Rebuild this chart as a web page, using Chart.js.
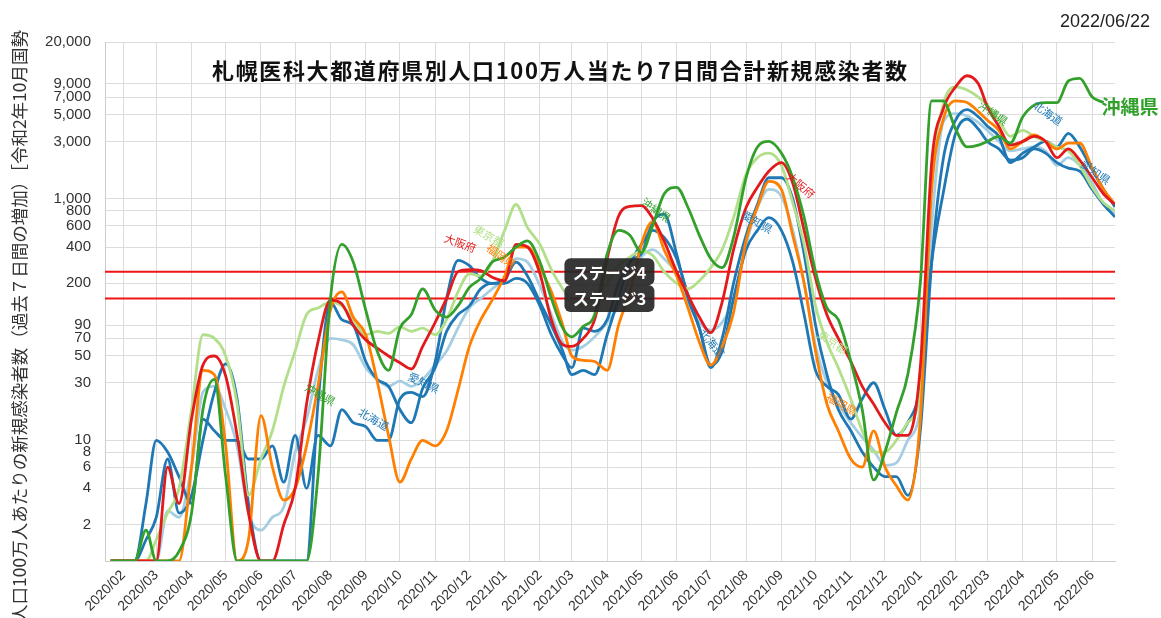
<!DOCTYPE html>
<html>
<head>
<meta charset="utf-8">
<script src="https://cdn.jsdelivr.net/npm/chart.js@4.4.0/dist/chart.umd.min.js"></script>
<style>
  html, body { margin: 0; padding: 0; background: #fff; }
  #wrap { width: 1161px; height: 618px; }
</style>
</head>
<body>
<div id="wrap"><canvas id="chart" width="1161" height="618"></canvas></div>
<script>
// sample dates (1st / 11th / 21st of each month)
const sampleDates = [
  '2020/01/21',
  '2020/02/01','2020/02/11','2020/02/21','2020/03/01','2020/03/11','2020/03/21',
  '2020/04/01','2020/04/11','2020/04/21','2020/05/01','2020/05/11','2020/05/21',
  '2020/06/01','2020/06/11','2020/06/21','2020/07/01','2020/07/11','2020/07/21',
  '2020/08/01','2020/08/11','2020/08/21','2020/09/01','2020/09/11','2020/09/21',
  '2020/10/01','2020/10/11','2020/10/21','2020/11/01','2020/11/11','2020/11/21',
  '2020/12/01','2020/12/11','2020/12/21','2021/01/01','2021/01/11','2021/01/21',
  '2021/02/01','2021/02/11','2021/02/21','2021/03/01','2021/03/11','2021/03/21',
  '2021/04/01','2021/04/11','2021/04/21','2021/05/01','2021/05/11','2021/05/21',
  '2021/06/01','2021/06/11','2021/06/21','2021/07/01','2021/07/11','2021/07/21',
  '2021/08/01','2021/08/11','2021/08/21','2021/09/01','2021/09/11','2021/09/21',
  '2021/10/01','2021/10/11','2021/10/21','2021/11/01','2021/11/11','2021/11/21',
  '2021/12/01','2021/12/11','2021/12/21','2022/01/01','2022/01/11','2022/01/21',
  '2022/02/01','2022/02/11','2022/02/21','2022/03/01','2022/03/11','2022/03/21',
  '2022/04/01','2022/04/11','2022/04/21','2022/05/01','2022/05/11','2022/05/21',
  '2022/06/01','2022/06/11','2022/06/21'
];

const monthTicks = [
  '2020/02','2020/03','2020/04','2020/05','2020/06','2020/07','2020/08','2020/09',
  '2020/10','2020/11','2020/12','2021/01','2021/02','2021/03','2021/04','2021/05',
  '2021/06','2021/07','2021/08','2021/09','2021/10','2021/11','2021/12','2022/01',
  '2022/02','2022/03','2022/04','2022/05','2022/06'
];

const yTicks = [1, 2, 4, 6, 8, 10, 30, 50, 70, 90, 200, 400, 600, 800, 1000, 3000, 5000, 7000, 9000, 20000];

const stageValues = [250, 150];
const stageNames = ['ステージ4', 'ステージ3'];

// per-prefecture values (per million, 7-day total)
const okinawa = [1,1,1,1.8,1,1,1.2,2.5,18,32,5,1,1,1,1,1,1,1,5,150,420,300,120,55,38,85,110,180,120,105,130,185,220,300,330,400,450,300,150,85,72,88,110,350,550,500,360,600,1100,1250,850,500,320,270,480,1500,2700,3000,2400,1500,700,250,125,100,45,18,4.7,8,17,35,200,6500,6500,3800,2700,2800,3000,3300,2900,4800,6000,6300,6300,9500,10000,7000,6300,null];
const tokyo = [1,1,1,1,1.5,2.5,4,18,75,70,50,20,3.5,7,12,28,55,110,125,140,130,100,75,80,77,87,80,85,75,100,170,240,230,300,550,900,580,420,260,180,140,130,150,200,280,330,370,340,250,200,180,210,270,380,700,1600,2200,2400,1900,930,420,130,65,40,22,12,8,8,10,14,25,1500,6000,8500,8000,7000,6000,4500,3300,3700,3300,3000,2700,2500,1900,1250,930,800];
const osaka = [1,1,1,1,1,6,3,15,42,50,34,11,2.5,1,1,2,4,20,65,145,135,90,68,58,50,44,39,60,95,150,250,260,255,225,210,420,400,240,100,62,60,70,100,320,720,870,880,690,450,250,160,105,78,140,380,850,1250,1700,2000,1350,550,220,110,70,45,28,20,14,11,11,40,2000,5500,8500,10500,9000,5800,4000,2800,3000,3300,3000,2200,2600,2100,1500,1100,900];
const fukuoka = [1,1,1,1,1,1,1,6,38,35,9,1,1.5,16,6,3.2,4,9,28,120,170,105,75,31,11,4.5,7,10,9,12,26,60,100,145,230,400,400,270,170,90,50,46,45,38,90,170,420,650,380,230,125,65,42,60,115,450,860,1400,1200,500,200,55,20,12,7,6,12,6,4.2,3.2,15,1200,4500,6500,6300,5300,4500,3700,2600,3000,3400,3000,2600,2900,2900,1800,1200,900];
const kanagawa = [1,1,1,1,1,2.6,2.3,6,25,28,18,9,2.5,1.8,2.3,2.8,8,15,38,70,68,62,40,32,28,31,28,32,42,55,85,125,150,180,220,320,300,190,110,65,56,60,72,95,130,220,330,380,320,240,140,95,82,95,145,420,850,1200,1050,550,200,60,30,20,14,10.6,8.3,6.2,6.5,10,19,600,4300,5100,4900,4300,3700,3000,2500,2600,2700,2500,1900,2200,1900,1350,900,760];
const hokkaido = [1,1,1,3,10,8,5,3,15,12,10,10,7,7,9,4.5,11,4,11,9,18,14,13,10,10,22,25,23,45,150,310,280,220,200,215,300,230,140,90,55,35,38,35,75,150,300,350,650,750,350,150,85,42,55,150,380,550,700,550,300,110,38,28,24,15,22,30,18,11,14,29,300,1100,3500,4600,3800,3000,2600,2100,2200,2600,2400,2000,1800,1700,1200,900,710];
const aichi = [1,1,1,1.5,2.3,7,2.5,3.5,10,25,43,22,3,1,1,1,1,1,20,140,100,90,45,32,28,18,14,27,40,80,110,130,180,200,200,220,200,130,75,50,40,85,80,100,200,300,420,550,480,320,160,85,40,70,200,500,900,1500,1500,1000,350,90,35,18,12,8,6,5,5,3.5,12,300,2100,4500,5500,4800,4000,3300,2000,2400,2700,3000,2700,3500,2700,1750,1200,860];

// small labels written along the lines
const lineLabels = [
  { text: '大阪府', date: '2020/11/23', value: 431, angle: 20, series: '大阪府' },
  { text: '東京都', date: '2020/12/18', value: 493, angle: 30, series: '東京都' },
  { text: '福岡県', date: '2020/12/29', value: 336, angle: 35, series: '福岡県' },
  { text: '沖縄県', date: '2021/05/14', value: 809, angle: 35, series: '沖縄県' },
  { text: '愛知県', date: '2021/08/11', value: 644, angle: 30, series: '愛知県' },
  { text: '大阪府', date: '2021/09/18', value: 1300, angle: 40, series: '大阪府' },
  { text: '沖縄県', date: '2020/07/23', value: 24, angle: 30, series: '沖縄県' },
  { text: '北海道', date: '2020/09/08', value: 15, angle: 30, series: '北海道' },
  { text: '愛知県', date: '2020/10/22', value: 30, angle: 25, series: '愛知県' },
  { text: '北海道', date: '2021/07/02', value: 64, angle: 50, series: '北海道' },
  { text: '東京都', date: '2021/10/16', value: 65, angle: 35, series: '東京都' },
  { text: '福岡県', date: '2021/10/24', value: 20, angle: 30, series: '福岡県' },
  { text: '沖縄県', date: '2022/03/06', value: 5150, angle: 35, series: '沖縄県' },
  { text: '北海道', date: '2022/04/23', value: 5150, angle: 35, series: '北海道' },
  { text: '愛知県', date: '2022/06/04', value: 1670, angle: 35, series: '愛知県' }
];

const dayOf = s => {
  const p = s.split('/').map(Number);
  return (Date.UTC(p[0], p[1] - 1, p[2] || 1) - Date.UTC(2020, 1, 1)) / 86400000;
};
const xMin = dayOf('2020/01/16');
const xMax = dayOf('2022/06/21');

const points = vals => sampleDates.map((d, i) => ({ x: dayOf(d), y: vals[i] }));

const colors = {
  '沖縄県': '#33a02c',
  '大阪府': '#e31a1c',
  '東京都': '#b2df8a',
  '福岡県': '#ff7f00',
  '北海道': '#1f78b4',
  '愛知県': '#1f78b4',
  '神奈川県': '#a6cee3'
};

function lineSet(name, vals) {
  return {
    label: name,
    data: points(vals),
    borderColor: colors[name],
    borderWidth: 2.8,
    pointRadius: 0,
    fill: false,
    cubicInterpolationMode: 'monotone',
    spanGaps: false
  };
}

const stageSets = stageValues.map((v, i) => ({
  label: stageNames[i],
  data: [{ x: xMin, y: v }, { x: xMax, y: v }],
  borderColor: '#f01414',
  borderWidth: 2,
  pointRadius: 0,
  fill: false
}));

const overlay = {
  id: 'overlay',
  beforeDraw(chart) {
    const ctx = chart.ctx;
    ctx.save();
    ctx.fillStyle = '#fff';
    ctx.fillRect(0, 0, chart.width, chart.height);
    ctx.restore();
  },
  afterDraw(chart) {
    const ctx = chart.ctx;
    const xs = chart.scales.x, ys = chart.scales.y;
    const jp = '"Noto Sans CJK JP", "Noto Sans", sans-serif';

    // labels along lines
    lineLabels.forEach(l => {
      const px = xs.getPixelForValue(dayOf(l.date));
      const py = ys.getPixelForValue(l.value);
      ctx.save();
      ctx.translate(px, py);
      ctx.rotate(l.angle * Math.PI / 180);
      ctx.font = '11px ' + jp;
      ctx.fillStyle = colors[l.series];
      ctx.textAlign = 'center';
      ctx.textBaseline = 'middle';
      ctx.fillText(l.text, 0, 0);
      ctx.restore();
    });

    // end label for Okinawa
    let last = okinawa.length - 1;
    while (okinawa[last] == null) last--;
    const ex = xs.getPixelForValue(dayOf(sampleDates[last]));
    const ey = ys.getPixelForValue(okinawa[last]);
    ctx.save();
    ctx.font = 'bold 19px ' + jp;
    ctx.fillStyle = colors['沖縄県'];
    ctx.textAlign = 'left';
    ctx.textBaseline = 'middle';
    ctx.fillText('沖縄県', ex - 2, ey + 4);
    ctx.restore();

    // stage boxes
    const bx = xs.getPixelForValue(dayOf('2021/04/03'));
    stageValues.forEach((v, i) => {
      const by = ys.getPixelForValue(v);
      ctx.save();
      ctx.fillStyle = 'rgba(38,38,38,0.92)';
      ctx.beginPath();
      ctx.roundRect(bx - 45, by - 13.5, 90, 27, 6);
      ctx.fill();
      ctx.font = 'bold 16px ' + jp;
      ctx.fillStyle = '#fff';
      ctx.textAlign = 'center';
      ctx.textBaseline = 'middle';
      ctx.fillText(stageNames[i], bx, by + 1);
      ctx.restore();
    });

    // title
    const title = '札幌医科大都道府県別人口100万人当たり7日間合計新規感染者数';
    ctx.save();
    ctx.font = 'bold 22px ' + jp;
    ctx.fillStyle = '#111';
    ctx.textBaseline = 'middle';
    ctx.textAlign = 'left';
    const w = ctx.measureText(title).width;
    const target = 695;
    if ('letterSpacing' in ctx) {
      ctx.letterSpacing = ((target - w) / (title.length - 1)).toFixed(2) + 'px';
    }
    ctx.fillText(title, 212, 71);
    ctx.restore();

    // date
    ctx.save();
    ctx.font = '18px "Liberation Sans", Arial, sans-serif';
    ctx.fillStyle = '#222';
    ctx.textAlign = 'right';
    ctx.textBaseline = 'middle';
    ctx.fillText('2022/06/22', 1150, 22);
    ctx.restore();

    // y axis title (clipped at the top like the original)
    ctx.save();
    ctx.beginPath();
    ctx.rect(0, 30, 40, chart.height - 30);
    ctx.clip();
    ctx.translate(19, 622);
    ctx.rotate(-Math.PI / 2);
    ctx.font = '17.5px ' + jp;
    ctx.fillStyle = '#333';
    ctx.textAlign = 'left';
    ctx.textBaseline = 'middle';
    ctx.fillText('人口100万人あたりの新規感染者数（過去７日間の増加）［令和2年10月国勢調査］', 0, 0);
    ctx.restore();
  }
};

Chart.defaults.font.family = '"Liberation Sans", Arial, sans-serif';
Chart.defaults.color = '#333';

new Chart(document.getElementById('chart').getContext('2d'), {
  type: 'line',
  data: {
    datasets: [
      lineSet('沖縄県', okinawa),
      lineSet('大阪府', osaka),
      lineSet('福岡県', fukuoka),
      lineSet('東京都', tokyo),
      lineSet('北海道', hokkaido),
      lineSet('愛知県', aichi),
      lineSet('神奈川県', kanagawa),
      ...stageSets
    ]
  },
  options: {
    responsive: false,
    animation: false,
    devicePixelRatio: 1,
    layout: { padding: { top: 42, right: 46, left: 0, bottom: 0 } },
    plugins: {
      legend: { display: false },
      tooltip: { enabled: false }
    },
    scales: {
      x: {
        type: 'linear',
        min: xMin,
        max: xMax,
        afterBuildTicks: s => { s.ticks = monthTicks.map(m => ({ value: dayOf(m + '/01') })); },
        afterFit: s => { s.height = 57; },
        grid: { color: '#dcdcdc', drawTicks: false },
        border: { color: '#cccccc' },
        ticks: {
          autoSkip: false,
          maxRotation: 45,
          minRotation: 45,
          padding: 6,
          font: { size: 14 },
          color: '#333',
          callback: (v, i) => monthTicks[i]
        }
      },
      y: {
        type: 'logarithmic',
        min: 1,
        max: 20000,
        afterBuildTicks: s => { s.ticks = yTicks.map(v => ({ value: v })); },
        afterFit: s => { s.width = 105; },
        grid: { color: '#dcdcdc', drawTicks: false },
        border: { color: '#cccccc' },
        ticks: {
          padding: 14,
          font: { size: 15 },
          color: '#333',
          callback: v => (v === 1 ? '' : Number(v).toLocaleString('en-US'))
        }
      }
    }
  },
  plugins: [overlay]
});
</script>
</body>
</html>
